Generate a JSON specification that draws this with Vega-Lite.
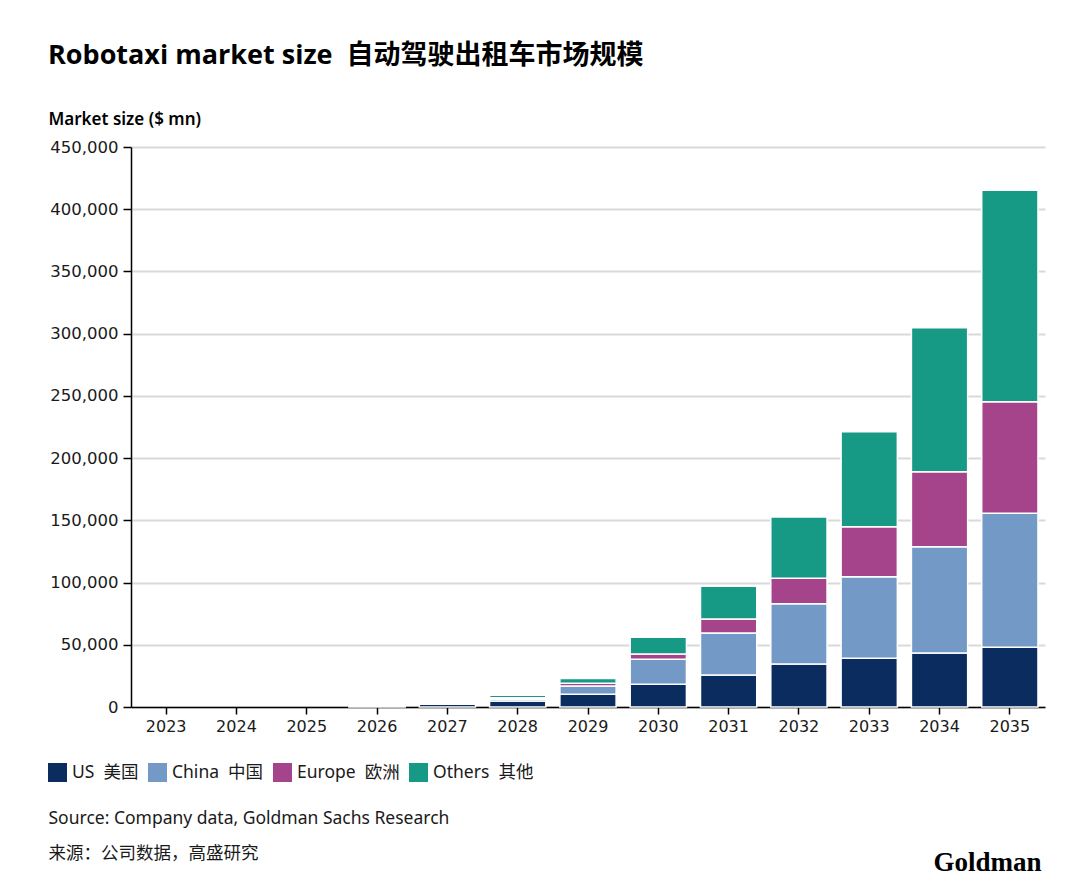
{
  "$schema": "https://vega.github.io/schema/vega-lite/v6.json",
  "autosize": "none",
  "width": 914,
  "height": 560,
  "padding": {"left": 131, "top": 147, "right": 35, "bottom": 184},
  "background": "white",
  "title": {
    "text": "Robotaxi market size\u00a0\u00a0自动驾驶出租车市场规模",
    "anchor": "start",
    "frame": "group",
    "dx": -83,
    "fontSize": 27,
    "fontWeight": "bold",
    "font": "Open Sans, Noto Sans CJK SC",
    "color": "#000000",
    "offset": 40
  },
  "data": {
    "values": [
      {"year": "2023", "region": "US 美国", "value": 0},
      {"year": "2024", "region": "US 美国", "value": 0},
      {"year": "2025", "region": "US 美国", "value": 0},
      {"year": "2026", "region": "US 美国", "value": 700},
      {"year": "2027", "region": "US 美国", "value": 2300},
      {"year": "2027", "region": "Others 其他", "value": 200},
      {"year": "2028", "region": "US 美国", "value": 4800},
      {"year": "2028", "region": "China 中国", "value": 1400},
      {"year": "2028", "region": "Europe 欧洲", "value": 1300},
      {"year": "2028", "region": "Others 其他", "value": 1900},
      {"year": "2029", "region": "US 美国", "value": 10200},
      {"year": "2029", "region": "China 中国", "value": 6700},
      {"year": "2029", "region": "Europe 欧洲", "value": 2100},
      {"year": "2029", "region": "Others 其他", "value": 4000},
      {"year": "2030", "region": "US 美国", "value": 18200},
      {"year": "2030", "region": "China 中国", "value": 20100},
      {"year": "2030", "region": "Europe 欧洲", "value": 4300},
      {"year": "2030", "region": "Others 其他", "value": 13400},
      {"year": "2031", "region": "US 美国", "value": 25700},
      {"year": "2031", "region": "China 中国", "value": 33800},
      {"year": "2031", "region": "Europe 欧洲", "value": 11200},
      {"year": "2031", "region": "Others 其他", "value": 26300},
      {"year": "2032", "region": "US 美国", "value": 34600},
      {"year": "2032", "region": "China 中国", "value": 48400},
      {"year": "2032", "region": "Europe 欧洲", "value": 20400},
      {"year": "2032", "region": "Others 其他", "value": 49300},
      {"year": "2033", "region": "US 美国", "value": 39100},
      {"year": "2033", "region": "China 中国", "value": 65600},
      {"year": "2033", "region": "Europe 欧洲", "value": 40200},
      {"year": "2033", "region": "Others 其他", "value": 76300},
      {"year": "2034", "region": "US 美国", "value": 43400},
      {"year": "2034", "region": "China 中国", "value": 85400},
      {"year": "2034", "region": "Europe 欧洲", "value": 60300},
      {"year": "2034", "region": "Others 其他", "value": 115700},
      {"year": "2035", "region": "US 美国", "value": 48000},
      {"year": "2035", "region": "China 中国", "value": 107700},
      {"year": "2035", "region": "Europe 欧洲", "value": 89600},
      {"year": "2035", "region": "Others 其他", "value": 169900}
    ]
  },
  "layer": [
    {
      "transform": [
        {"filter": "datum.value > 0"},
        {"calculate": "indexof(['US 美国', 'China 中国', 'Europe 欧洲', 'Others 其他'], datum.region)", "as": "stackOrder"}
      ],
      "mark": {"type": "bar", "stroke": "white", "strokeWidth": 1.5},
      "encoding": {
        "x": {
          "field": "year",
          "type": "ordinal",
          "scale": {
            "domain": ["2023", "2024", "2025", "2026", "2027", "2028", "2029", "2030", "2031", "2032", "2033", "2034", "2035"],
            "paddingInner": 0.2,
            "paddingOuter": 0.1
          },
          "axis": {
            "labelAngle": 0,
            "labelFont": "DejaVu Sans",
            "labelFontSize": 16,
            "labelColor": "#1a1a1a",
            "labelPadding": 4,
            "tickSize": 7,
            "tickColor": "#000000",
            "tickWidth": 1.5,
            "domainColor": "#000000",
            "domainWidth": 1.5,
            "title": ["Source: Company data, Goldman Sachs Research", "来源：公司数据，高盛研究"],
            "titleFontSize": 17.5,
            "titleFontWeight": "normal",
            "titleColor": "#1a1a1a",
            "titleAlign": "left",
            "titleAnchor": "start",
            "titleBaseline": "alphabetic",
            "titleLineHeight": 35,
            "titleX": -83,
            "titleY": 116
          }
        },
        "y": {
          "field": "value",
          "type": "quantitative",
          "stack": "zero",
          "scale": {"domain": [0, 450000]},
          "axis": {
            "values": [0, 50000, 100000, 150000, 200000, 250000, 300000, 350000, 400000, 450000],
            "format": ",.0f",
            "labelFont": "DejaVu Sans",
            "labelFontSize": 16.5,
            "labelColor": "#1a1a1a",
            "labelPadding": 5,
            "tickSize": 8,
            "tickColor": "#000000",
            "tickWidth": 1.5,
            "domainColor": "#000000",
            "domainWidth": 1.5,
            "gridColor": "#d9d9d9",
            "gridWidth": 2,
            "title": "Market size ($ mn)",
            "titleAngle": 0,
            "titleAlign": "left",
            "titleBaseline": "alphabetic",
            "titleX": -83,
            "titleY": -23,
            "titleFontSize": 17,
            "titleFontWeight": 600,
            "titleColor": "#000000"
          }
        },
        "order": {"field": "stackOrder", "type": "quantitative", "sort": "ascending"},
        "color": {
          "field": "region",
          "type": "nominal",
          "sort": ["US 美国", "China 中国", "Europe 欧洲", "Others 其他"],
          "scale": {
            "domain": ["US 美国", "China 中国", "Europe 欧洲", "Others 其他"],
            "range": ["#0b2c5f", "#7399c6", "#a5448a", "#169985"]
          },
          "legend": {
            "title": null,
            "orient": "none",
            "direction": "horizontal",
            "legendX": -83,
            "legendY": 616,
            "symbolType": "square",
            "symbolSize": 361,
            "symbolStrokeWidth": 0,
            "symbolOpacity": 1,
            "labelFontSize": 17.5,
            "labelColor": "#1a1a1a",
            "labelOffset": 5,
            "columnPadding": 9,
            "labelLimit": 300,
            "labelExpr": "replace(datum.label, ' ', '\u00a0\u00a0')"
          }
        }
      }
    },
    {
      "mark": {"type": "rule", "opacity": 0},
      "encoding": {
        "y": {
          "datum": 0,
          "type": "quantitative",
          "axis": {
            "orient": "right",
            "labels": false,
            "ticks": false,
            "domain": false,
            "grid": false,
            "title": "Goldman",
            "titleAngle": 0,
            "titleAlign": "right",
            "titleBaseline": "alphabetic",
            "titleX": -4,
            "titleY": 723,
            "titleFont": "Liberation Serif",
            "titleFontSize": 27,
            "titleFontWeight": "bold",
            "titleColor": "#000000"
          }
        }
      }
    }
  ],
  "resolve": {"scale": {"y": "independent"}},
  "config": {
    "view": {"stroke": null},
    "font": "Noto Sans, Noto Sans CJK SC"
  }
}
